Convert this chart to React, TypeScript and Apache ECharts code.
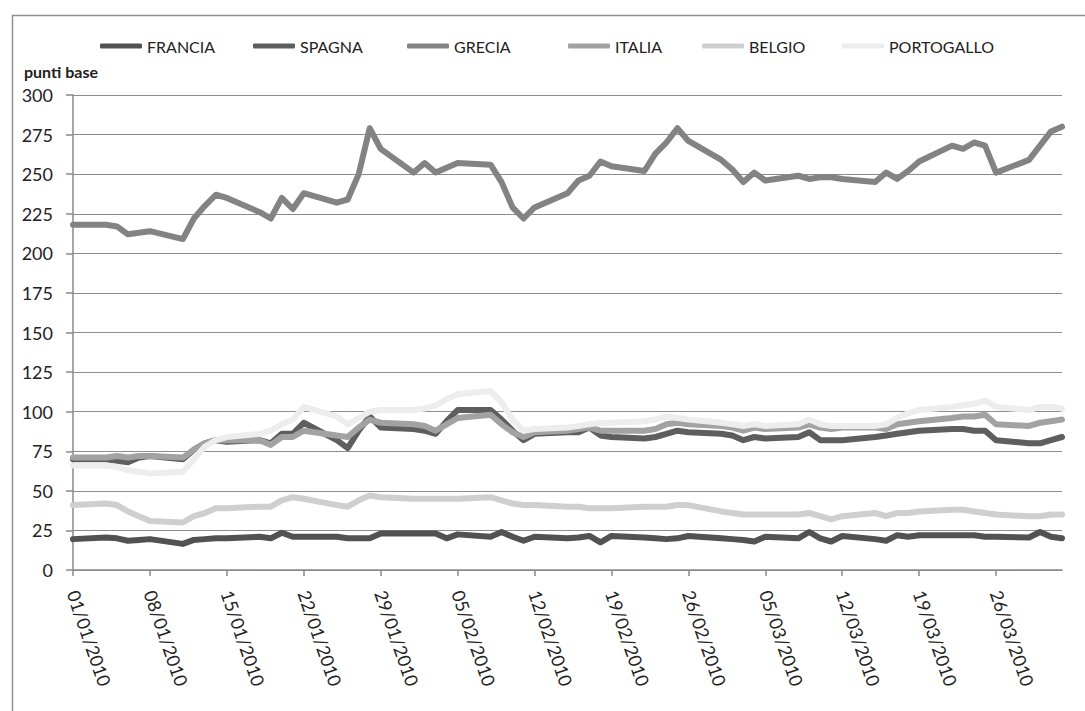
import React, { useEffect, useRef } from "react";
import * as echarts from "echarts";

// Trading days, 01/01/2010 – 01/04/2010
const dates = [
  "01/01/2010",
  "04/01/2010", "05/01/2010", "06/01/2010", "07/01/2010", "08/01/2010",
  "11/01/2010", "12/01/2010", "13/01/2010", "14/01/2010", "15/01/2010",
  "18/01/2010", "19/01/2010", "20/01/2010", "21/01/2010", "22/01/2010",
  "25/01/2010", "26/01/2010", "27/01/2010", "28/01/2010", "29/01/2010",
  "01/02/2010", "02/02/2010", "03/02/2010", "04/02/2010", "05/02/2010",
  "08/02/2010", "09/02/2010", "10/02/2010", "11/02/2010", "12/02/2010",
  "15/02/2010", "16/02/2010", "17/02/2010", "18/02/2010", "19/02/2010",
  "22/02/2010", "23/02/2010", "24/02/2010", "25/02/2010", "26/02/2010",
  "01/03/2010", "02/03/2010", "03/03/2010", "04/03/2010", "05/03/2010",
  "08/03/2010", "09/03/2010", "10/03/2010", "11/03/2010", "12/03/2010",
  "15/03/2010", "16/03/2010", "17/03/2010", "18/03/2010", "19/03/2010",
  "22/03/2010", "23/03/2010", "24/03/2010", "25/03/2010", "26/03/2010",
  "29/03/2010", "30/03/2010", "31/03/2010", "01/04/2010",
];

// Spreads in basis points
const francia = [
  19.5,
  20.5, 20, 18.5, 19, 19.5,
  16.5, 19, 19.5, 20, 20,
  21, 20, 23.5, 21, 21,
  21, 20, 20, 20, 23,
  23, 23, 23, 20, 22.5,
  21, 24, 21, 18.5, 21,
  20, 20.5, 21.5, 17.5, 21.5,
  20.5, 20, 19.5, 20, 21.5,
  20, 19.5, 19, 18, 21,
  20, 24, 20, 18, 21.5,
  19.5, 18.5, 22, 21, 22,
  22, 22, 22, 21, 21,
  20.5, 24, 21, 20,
];
const spagna = [
  70,
  70, 69, 68, 71, 72,
  70, 76, 80, 82, 81,
  82, 80, 86, 86, 93,
  82, 77, 88, 97, 90,
  89, 88, 86, 94, 101,
  101, 95, 88, 82, 86,
  87, 87, 90, 85, 84,
  83, 84, 86, 88, 87,
  86, 85, 82, 84, 83,
  84, 87, 82, 82, 82,
  84, 85, 86, 87, 88,
  89, 89, 88, 88, 82,
  80, 80, 82, 84,
];
const grecia = [
  218,
  218, 217, 212, 213, 214,
  209, 222, 230, 237, 235,
  226, 222, 235, 228, 238,
  232, 234, 250, 279, 266,
  251, 257, 251, 254, 257,
  256, 245, 229, 222, 229,
  238, 246, 249, 258, 255,
  252, 263, 270, 279, 271,
  259, 253, 245, 251, 246,
  249, 247, 248, 248, 247,
  245, 251, 247, 252, 258,
  268, 266, 270, 268, 251,
  259, 268, 277, 280,
];
const italia = [
  71,
  71, 72, 71, 72, 72,
  71, 76, 80, 82, 82,
  82, 79, 84, 84, 88,
  85, 84, 90, 95, 93,
  92, 91, 88, 92, 96,
  98, 92, 87, 84, 87,
  88, 89, 90, 88, 88,
  88, 89, 92, 93, 92,
  91, 90, 88, 90, 89,
  90, 92, 90, 89, 90,
  90, 89, 92, 93, 94,
  96, 97, 97, 98, 92,
  91, 93, 94, 95,
];
const belgio = [
  41,
  42, 41, 37, 34, 31,
  30, 34, 36, 39, 39,
  40, 40, 44, 46, 45,
  41, 40, 44, 47, 46,
  45, 45, 45, 45, 45,
  46, 44, 42, 41, 41,
  40, 40, 39, 39, 39,
  40, 40, 40, 41, 41,
  37, 36, 35, 35, 35,
  35, 36, 34, 32, 34,
  36, 34, 36, 36, 37,
  38, 38, 37, 36, 35,
  34, 34, 35, 35,
];
const portogallo = [
  66,
  66, 65, 63, 62, 61,
  62, 70, 78, 82, 84,
  86, 88, 92, 95, 103,
  97, 92, 96, 100, 101,
  101, 102, 104, 108, 111,
  113, 106, 95, 88, 89,
  90, 91, 92, 93, 93,
  94, 95, 97, 96, 95,
  93, 92, 91, 92, 91,
  92, 95, 92, 91, 91,
  91, 92, 96, 99, 101,
  103, 104, 105, 107, 103,
  101, 103, 103, 102,
];

const countries = ["FRANCIA", "SPAGNA", "GRECIA", "ITALIA", "BELGIO", "PORTOGALLO"];
const seriesValues = [francia, spagna, grecia, italia, belgio, portogallo];
const seriesColors = ["#525252", "#5e5e5e", "#838383", "#a2a2a2", "#cfcfcf", "#ededed"];
const legendLefts = [100, 253, 407, 568, 702, 842];

// Weekly axis labels
const tickLabels = [
  "01/01/2010", "08/01/2010", "15/01/2010", "22/01/2010", "29/01/2010",
  "05/02/2010", "12/02/2010", "19/02/2010", "26/02/2010",
  "05/03/2010", "12/03/2010", "19/03/2010", "26/03/2010",
];

const yTicks = { min: 0, max: 300, interval: 25 };

const DAY = 86400000;
const ORIGIN = Date.UTC(2010, 0, 1);
function dayIndex(s: string): number {
  const [d, m, y] = s.split("/").map(Number);
  return Math.round((Date.UTC(y, m - 1, d) - ORIGIN) / DAY);
}

const tickDays = tickLabels.map(dayIndex);
const lastDay = dayIndex(dates[dates.length - 1]);

const FONT = "Lato, 'Open Sans', sans-serif";

export default function App() {
  const ref = useRef<HTMLDivElement>(null);

  useEffect(() => {
    document.body.style.margin = "0";
    if (!ref.current) return;
    const chart = echarts.init(ref.current, undefined, { renderer: "svg" });

    const series = countries.map((name, i) => ({
      name,
      type: "line",
      data: dates.map((d, j) => [dayIndex(d), seriesValues[i][j]]),
      showSymbol: false,
      symbol: "none",
      color: seriesColors[i],
      lineStyle: { width: 6, color: seriesColors[i], cap: "round", join: "round" },
      emphasis: { disabled: true },
      z: 2,
    }));

    const legends = countries.map((name, i) => ({
      data: [name],
      left: legendLefts[i],
      top: 38,
      padding: 0,
      icon: "roundRect",
      itemWidth: 42,
      itemHeight: 5,
      selectedMode: false,
      textStyle: { fontSize: 16, fontFamily: FONT, color: "#222" },
    }));

    chart.setOption({
      animation: false,
      backgroundColor: "#ffffff",
      legend: legends,
      grid: { left: 73, right: 23, top: 95, bottom: 141 },
      xAxis: {
        type: "value",
        min: 0,
        max: lastDay,
        interval: 7,
        axisLine: { show: true, lineStyle: { color: "#8a8a8a", width: 1.5 } },
        axisTick: {
          show: true,
          length: 6,
          customValues: tickDays,
          lineStyle: { color: "#8a8a8a", width: 1.5 },
        },
        splitLine: { show: false },
        axisLabel: {
          customValues: tickDays,
          rotate: -71,
          margin: 21,
          fontSize: 18,
          fontFamily: FONT,
          color: "#222",
          formatter: (v: number) => {
            const k = tickDays.indexOf(Math.round(v));
            return k >= 0 ? tickLabels[k] : "";
          },
        },
      },
      yAxis: {
        type: "value",
        min: yTicks.min,
        max: yTicks.max,
        interval: yTicks.interval,
        axisLine: { show: true, lineStyle: { color: "#8a8a8a", width: 1.5 } },
        axisTick: { show: true, length: 7, lineStyle: { color: "#8a8a8a", width: 1.5 } },
        splitLine: { show: true, lineStyle: { color: "#8d8d8d", width: 1.2 } },
        axisLabel: { margin: 20, fontSize: 18, fontFamily: FONT, color: "#222" },
      },
      graphic: [
        {
          type: "rect",
          left: 10,
          top: 13,
          shape: { width: 1100, height: 720 },
          style: { fill: "none", stroke: "#8f8f8f", lineWidth: 1.5 },
          silent: true,
        },
        {
          type: "text",
          left: 24,
          top: 63,
          style: {
            text: "punti base",
            fontSize: 16,
            fontWeight: "bold",
            fontFamily: FONT,
            fill: "#222",
          },
        },
      ],
      series,
    });

    return () => chart.dispose();
  }, []);

  return (
    <div
      ref={ref}
      style={{ position: "absolute", left: 0, top: 0, width: 1085, height: 711 }}
    />
  );
}
